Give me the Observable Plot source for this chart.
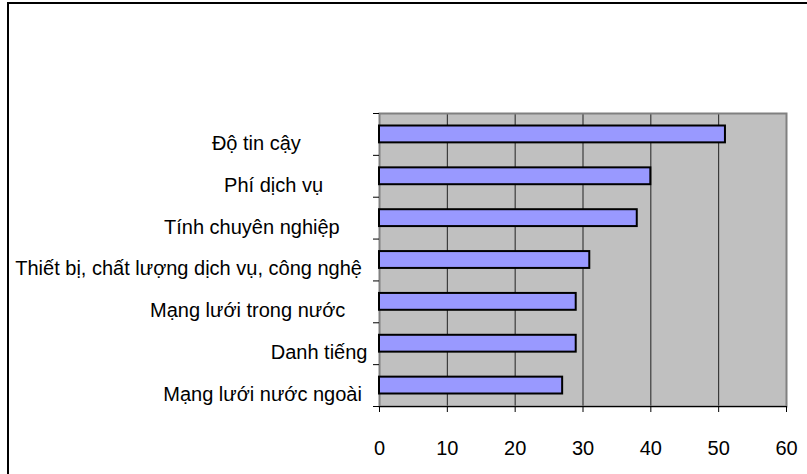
<!DOCTYPE html>
<html>
<head>
<meta charset="utf-8">
<script src="https://cdn.jsdelivr.net/npm/d3@7"></script>
<script src="https://cdn.jsdelivr.net/npm/@observablehq/plot@0.6"></script>
<style>
  html, body { margin: 0; padding: 0; background: #fff; }
  #wrap { position: relative; width: 807px; height: 474px; overflow: hidden; }
  #edge { position: absolute; left: 7px; top: 2px; right: -4px; bottom: -4px;
          border-top: 2px solid #000; border-left: 2px solid #000; pointer-events: none; }
</style>
</head>
<body>
<div id="wrap"><div id="edge"></div></div>
<script>
// Survey factors, top to bottom (trailing spaces are part of the source labels)
const factors = [
  "Độ tin cậy            ",
  "Phí dịch vụ        ",
  "Tính chuyên nghiệp     ",
  "Thiết bị, chất lượng dịch vụ, công nghệ ",
  "Mạng lưới trong nước    ",
  "Danh tiếng",
  "Mạng lưới nước ngoài "
];
const scores = [51, 40, 38, 31, 29, 29, 27];
const xTicks = [0, 10, 20, 30, 40, 50, 60];

const rows = factors.map((name, i) => ({name, score: scores[i], i}));

const font = "Liberation Sans, Arial, sans-serif";

const chart = Plot.plot({
  width: 807,
  height: 474,
  marginLeft: 379,
  marginRight: 21,
  marginTop: 113,
  marginBottom: 68,
  style: {fontFamily: font, fontSize: "20px", background: "transparent", color: "#000"},
  x: {domain: [0, 60], label: null},
  y: {domain: [0, factors.length], reverse: true, label: null},
  marks: [
    // grey plot area, gridlines and border
    Plot.frame({fill: "#c0c0c0", stroke: null}),
    Plot.gridX({ticks: xTicks.slice(1, -1), stroke: "#222", strokeOpacity: 1, strokeWidth: 1}),
    Plot.frame({stroke: "#808080", strokeWidth: 2}),
    // one bar per factor
    Plot.rectX(rows, {
      x1: 0, x2: "score", y1: "i", y2: d => d.i + 1,
      insetTop: 12.5, insetBottom: 12.5,
      fill: "#9999ff", stroke: "#000", strokeWidth: 2
    }),
    Plot.ruleY([factors.length], {stroke: "#000", strokeWidth: 1}),
    Plot.axisX({ticks: xTicks, tickSize: 6, tickPadding: 28, tickFormat: d => String(d), fontSize: 20, stroke: "#000", label: null}),
    // category separators on the left edge
    Plot.axisY({ticks: d3.range(factors.length + 1), tickSize: 6, tickFormat: () => "", stroke: "#000", label: null}),
    Plot.text(rows, {
      x: 0, y: d => d.i + 0.5, text: d => d.name.replace(/ /g, "\u00a0"),
      textAnchor: "end", dx: -12, dy: 9, fontSize: 20, fill: "#000"
    })
  ]
});
document.getElementById("wrap").prepend(chart);
</script>
</body>
</html>
